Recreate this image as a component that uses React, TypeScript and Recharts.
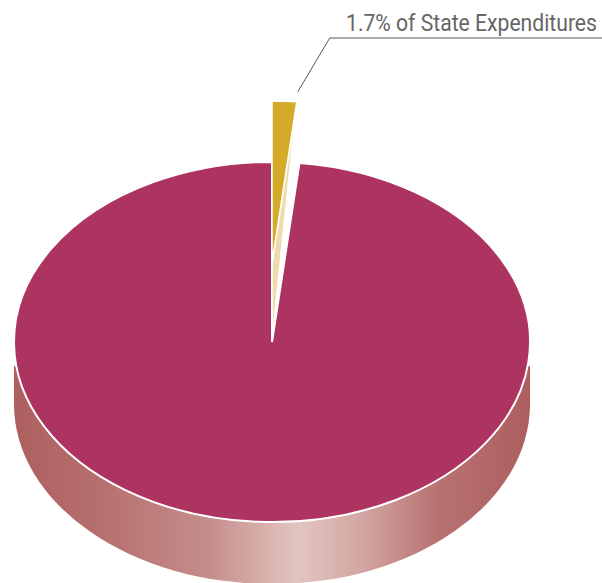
import React from 'react';
import { PieChart, Pie } from 'recharts';

// data
const categories = ['Other State Expenditures', 'State Expenditures'];
const shares = [98.3, 1.7];
const sliceColors = ['#ad3360', '#d4aa29'];
const labelText = '1.7% of State Expenditures';

const data = categories.map((name, i) => ({ name, value: shares[i], fill: sliceColors[i] }));
const total = shares.reduce((a, b) => a + b, 0);
// small slice sits just right of 12 o'clock, big slice takes the rest
const START = 90 - (360 * shares[1]) / total;

// geometry of the fake 3d disc
const W = 602;
const H = 583;
const CX = 272;
const CY = 342;
const RX = 258;
const SQUASH = 0.698;
const DEPTH = 62;
const WALL_TOP = 24; // side wall shows only a bit below the equator
const RAISE = 79;
const SMALL_K = 0.9;
const RAD = Math.PI / 180;

const pt = (cx: number, cy: number, rx: number, ry: number, a: number) =>
  [cx + rx * Math.cos(a * RAD), cy - ry * Math.sin(a * RAD)];

const sectorPath = (cx: number, cy: number, rx: number, ry: number, s: number, e: number) => {
  const [x1, y1] = pt(cx, cy, rx, ry, s);
  const [x2, y2] = pt(cx, cy, rx, ry, e);
  const large = Math.abs(s - e) > 180 ? 1 : 0;
  return `M${cx},${cy} L${x1},${y1} A${rx},${ry} 0 ${large} 1 ${x2},${y2} Z`;
};

const SliceShape = (props: any) => {
  const { cx, cy, outerRadius, startAngle, endAngle, fill, index } = props;
  const s = Math.max(startAngle, endAngle);
  const e = Math.min(startAngle, endAngle);
  const rx = outerRadius;
  const ry = outerRadius * SQUASH;

  if (index === 1) {
    const rcy = cy - RAISE;
    const srx = rx * SMALL_K;
    const sry = ry * SMALL_K;
    const [ox, oy] = pt(cx, rcy, srx, sry, e);
    return (
      <g>
        <path d={`M${cx},${rcy} L${ox},${oy} L${cx},${cy} Z`} fill="#efdcae" stroke="#fff" strokeWidth={1.5} />
        <path d={sectorPath(cx, rcy, srx, sry, s, e)} fill={fill} stroke="#fff" strokeWidth={1.5} />
      </g>
    );
  }

  // front side wall, the top face is painted over it
  const wall =
    `M${cx + rx},${cy + WALL_TOP} L${cx + rx},${cy + DEPTH} ` +
    `A${rx},${ry} 0 0 1 ${cx - rx},${cy + DEPTH} L${cx - rx},${cy + WALL_TOP} Z`;

  return (
    <g>
      <defs>
        <linearGradient id="wallGrad" x1="0" y1="0" x2="1" y2="0">
          <stop offset="0" stopColor="#ae5f5f" />
          <stop offset="0.18" stopColor="#b77170" />
          <stop offset="0.38" stopColor="#c58e8c" />
          <stop offset="0.55" stopColor="#e2c5bf" />
          <stop offset="0.68" stopColor="#d2a4a1" />
          <stop offset="0.82" stopColor="#b87272" />
          <stop offset="1" stopColor="#ad5e5f" />
        </linearGradient>
      </defs>
      <path d={wall} fill="url(#wallGrad)" />
      <path d={sectorPath(cx, cy, rx, ry, s, e)} fill={fill} stroke="#fff" strokeWidth={2} />
    </g>
  );
};

const renderLabel = (props: any) => {
  const { cx, cy, outerRadius, startAngle, endAngle, index } = props;
  if (index !== 1) return null;
  const e = Math.min(startAngle, endAngle);
  const [ox, oy] = pt(cx, cy - RAISE, outerRadius * SMALL_K, outerRadius * SQUASH * SMALL_K, e);
  const x0 = ox + 1;
  const y0 = oy - 10;
  const x1 = x0 + 32;
  const y1 = 38;
  return (
    <g>
      <polyline points={`${x0},${y0} ${x1},${y1} ${W},${y1}`} fill="none" stroke="#555" strokeWidth={1} />
      <text
        x={597}
        y={31}
        textAnchor="end"
        fill="#666"
        fontSize={24}
        fontFamily="Roboto, sans-serif"
        textLength={251}
        lengthAdjust="spacingAndGlyphs"
      >
        {labelText}
      </text>
    </g>
  );
};

export default function App() {
  return (
    <div style={{ position: 'absolute', left: 0, top: 0, width: W, height: H, background: '#fff' }}>
      <PieChart width={W} height={H} margin={{ top: 0, right: 0, bottom: 0, left: 0 }}>
        <Pie
          data={data}
          dataKey="value"
          nameKey="name"
          cx={CX}
          cy={CY}
          innerRadius={0}
          outerRadius={RX}
          startAngle={START}
          endAngle={START - 360}
          stroke="none"
          shape={SliceShape}
          label={renderLabel}
          labelLine={false}
          isAnimationActive={false}
        />
      </PieChart>
    </div>
  );
}
